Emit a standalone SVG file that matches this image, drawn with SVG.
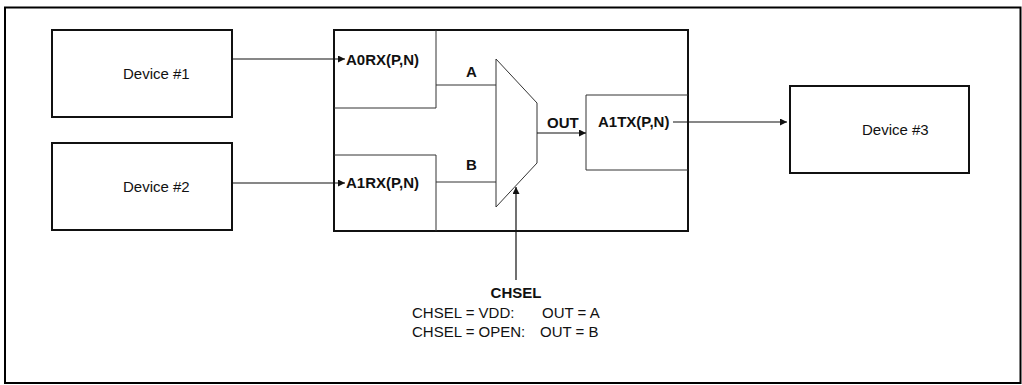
<svg xmlns="http://www.w3.org/2000/svg" width="1022" height="385" viewBox="0 0 1022 385">
<style>
.frame{fill:#fff;stroke:#000;stroke-width:2}
.dev{fill:#fff;stroke:#111;stroke-width:2}
.thin{fill:none;stroke:#333;stroke-width:1}
.wire{fill:none;stroke:#111;stroke-width:1.2}
.t{font-family:"Liberation Sans",Arial,sans-serif;font-size:15px;fill:#111}
.b{font-family:"Liberation Sans",Arial,sans-serif;font-size:15px;font-weight:bold;fill:#111}
</style>
<defs>
<marker id="ah" viewBox="0 0 10 10" refX="10" refY="5" markerWidth="8" markerHeight="7" markerUnits="userSpaceOnUse" orient="auto">
<path d="M0,0 L10,5 L0,10 z" fill="#111"/>
</marker>
</defs>
<rect class="frame" x="5" y="7.5" width="1015.5" height="375.5"/>
<g id="device1">
<rect class="dev" x="52" y="30" width="180" height="87"/>
<text class="t" x="123" y="79">Device #1</text>
</g>
<g id="device2">
<rect class="dev" x="52" y="143" width="180" height="87"/>
<text class="t" x="123" y="192">Device #2</text>
</g>
<g id="device3">
<rect class="dev" x="790" y="86" width="179" height="87"/>
<text class="t" x="862" y="135">Device #3</text>
</g>
<g id="switch">
<rect class="dev" x="334" y="30" width="354" height="201"/>
</g>
<g id="a0rx">
<path class="thin" d="M334,108 H436 V30"/>
<text class="b" x="346" y="65">A0RX(P,N)</text>
</g>
<g id="a1rx">
<path class="thin" d="M334,155 H436 V231"/>
<text class="b" x="346" y="188">A1RX(P,N)</text>
</g>
<g id="a1tx">
<path class="thin" d="M688,95 H586 V170 H688"/>
<text class="b" x="598" y="127">A1TX(P,N)</text>
</g>
<g id="mux">
<path class="thin" d="M496,59 L537,103 L537,163 L496,207 Z"/>
</g>
<g id="connectors">
<line class="wire" x1="232" y1="59" x2="345" y2="59" marker-end="url(#ah)"/>
<line class="wire" x1="232" y1="183" x2="345" y2="183" marker-end="url(#ah)"/>
<line class="thin" x1="436" y1="85" x2="496" y2="85"/>
<line class="thin" x1="436" y1="182" x2="496" y2="182"/>
<line class="wire" x1="537" y1="133" x2="586" y2="133" marker-end="url(#ah)"/>
<line class="wire" x1="673" y1="122" x2="787" y2="122" marker-end="url(#ah)"/>
<line class="wire" x1="516" y1="280" x2="516" y2="187" marker-end="url(#ah)"/>
</g>
<g id="labels">
<text class="b" x="466" y="77">A</text>
<text class="b" x="466" y="170">B</text>
<text class="b" x="547" y="128">OUT</text>
<text class="b" x="516" y="298" text-anchor="middle">CHSEL</text>
<text class="t" x="412" y="318">CHSEL = VDD:</text>
<text class="t" x="542" y="318">OUT = A</text>
<text class="t" x="412" y="337">CHSEL = OPEN:</text>
<text class="t" x="540" y="337">OUT = B</text>
</g>
</svg>
